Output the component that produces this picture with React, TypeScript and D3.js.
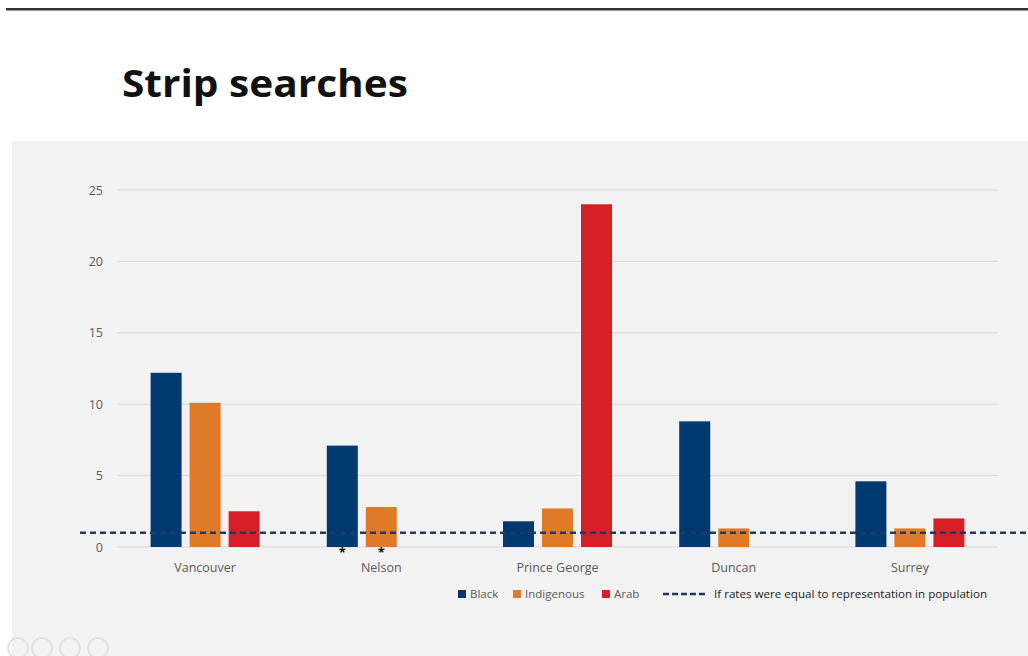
import React from "react";
import * as d3 from "d3";

const categories = ["Vancouver", "Nelson", "Prince George", "Duncan", "Surrey"];
const seriesNames = ["Black", "Indigenous", "Arab"];
const blackValues = [12.2, 7.1, 1.8, 8.8, 4.6];
const indigenousValues = [10.1, 2.8, 2.7, 1.3, 1.3];
const arabValues = [2.5, 0, 24, 0, 2.0];
const yTicks = [0, 5, 10, 15, 20, 25];
const equalRate = 1;
const asteriskCategories = ["Nelson"];
const asteriskSeries = ["Black", "Indigenous"];
const equalLabel = "If rates were equal to representation in population";

const colors: Record<string, string> = {
  Black: "#003a70",
  Indigenous: "#e07a28",
  Arab: "#d61f26",
};

export default function App() {
  const W = 1028, H = 656;
  const left = 117, right = 998, top = 190, bottom = 547;
  const x = d3.scaleBand<string>().domain(categories).range([left, right]);
  const y = d3.scaleLinear().domain([0, 25]).range([bottom, top]);
  const barW = 31, step = 39;
  const values: Record<string, number[]> = {
    Black: blackValues,
    Indigenous: indigenousValues,
    Arab: arabValues,
  };
  const font = "'Open Sans', 'Noto Sans', sans-serif";

  return (
    <svg width={W} height={H} style={{ position: "absolute", left: 0, top: 0 }} fontFamily={font}>
      <rect x={0} y={0} width={W} height={H} fill="#ffffff" />
      <rect x={6} y={8} width={W - 6} height={2.5} fill="#333333" />
      <rect x={12} y={141} width={W - 12} height={H - 141} fill="#f2f2f2" />
      <text x={122} y={97} fontSize={38} fontWeight={700} fill="#111" textLength={286} lengthAdjust="spacingAndGlyphs">
        Strip searches
      </text>

      {yTicks.map((t) => (
        <g key={t}>
          <line x1={left} x2={right} y1={y(t)} y2={y(t)} stroke="#d9d9d9" strokeWidth={1} />
          <text x={103} y={y(t) + 4.5} textAnchor="end" fontSize={12.5} fill="#595959">{t}</text>
        </g>
      ))}

      {categories.map((c, ci) => (
        <g key={c}>
          {seriesNames.map((s, si) => {
            const v = values[s][ci];
            if (!v) return null;
            const cx = (x(c) as number) + x.bandwidth() / 2 + (si - 1) * step;
            return (
              <rect key={s} x={cx - barW / 2} y={y(v)} width={barW} height={y(0) - y(v)} fill={colors[s]} />
            );
          })}
          <text x={(x(c) as number) + x.bandwidth() / 2} y={572} textAnchor="middle" fontSize={12.5} fill="#595959">{c}</text>
        </g>
      ))}

      {asteriskCategories.map((c) =>
        asteriskSeries.map((s) => {
          const si = seriesNames.indexOf(s);
          const cx = (x(c) as number) + x.bandwidth() / 2 + (si - 1) * step;
          return (
            <text key={c + s} x={cx} y={557} textAnchor="middle" fontSize={13} fontWeight={700} fill="#111">*</text>
          );
        })
      )}

      <line x1={80} x2={W} y1={y(equalRate)} y2={y(equalRate)} stroke="#1f3864" strokeWidth={2.5} strokeDasharray="6,4" />

      {/* legend */}
      {[
        { s: "Black", sx: 458, tx: 470 },
        { s: "Indigenous", sx: 513, tx: 525 },
        { s: "Arab", sx: 602, tx: 614 },
      ].map((l) => (
        <g key={l.s}>
          <rect x={l.sx} y={590} width={8} height={8} fill={colors[l.s]} />
          <text x={l.tx} y={598} fontSize={11.5} fill="#595959">{l.s}</text>
        </g>
      ))}
      <line x1={663} x2={708} y1={594} y2={594} stroke="#1f3864" strokeWidth={2.5} strokeDasharray="6,3" />
      <text x={714} y={598} fontSize={11} fill="#222" textLength={273} lengthAdjust="spacingAndGlyphs">{equalLabel}</text>

      {[18, 42, 70, 98].map((cx) => (
        <circle key={cx} cx={cx} cy={648} r={10} fill="none" stroke="#dedede" strokeWidth={1.5} />
      ))}
    </svg>
  );
}
